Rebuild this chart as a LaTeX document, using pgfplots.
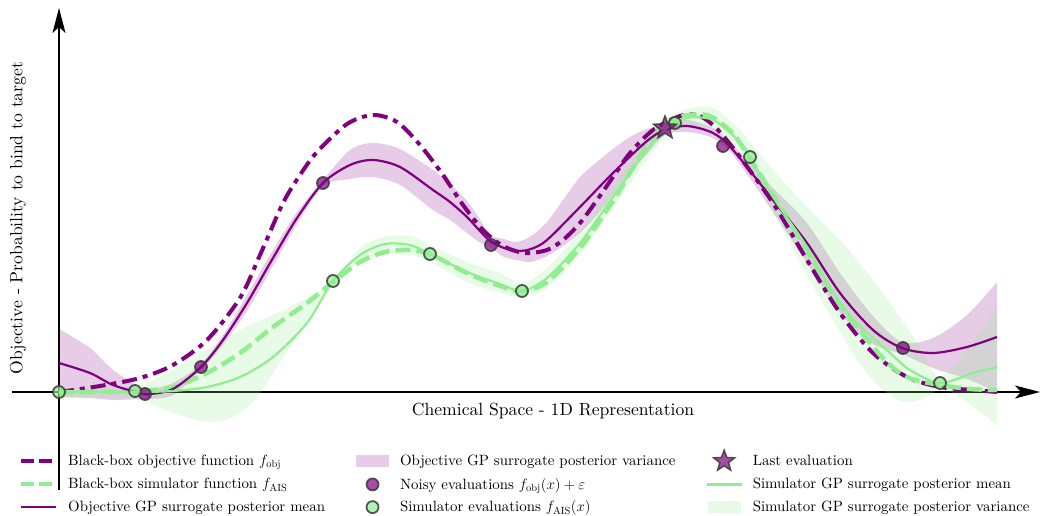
\RequirePackage{fix-cm}
\documentclass[border=0pt]{standalone}
\usepackage{fontspec}
\setmainfont{lmroman10-regular.otf}
\usepackage{pgfplots}
\pgfplotsset{compat=1.18}
\usepgfplotslibrary{fillbetween}
\usetikzlibrary{arrows.meta}

\definecolor{objc}{HTML}{800080}
\definecolor{simc}{HTML}{90EE90}
\definecolor{edgec}{HTML}{3A3A3A}

% filled five-point star
\pgfdeclareplotmark{fstar}{%
  \pgfpathmoveto{\pgfpointpolar{90}{\pgfplotmarksize}}%
  \pgfpathlineto{\pgfpointpolar{126}{0.42\pgfplotmarksize}}%
  \pgfpathlineto{\pgfpointpolar{162}{\pgfplotmarksize}}%
  \pgfpathlineto{\pgfpointpolar{198}{0.42\pgfplotmarksize}}%
  \pgfpathlineto{\pgfpointpolar{234}{\pgfplotmarksize}}%
  \pgfpathlineto{\pgfpointpolar{270}{0.42\pgfplotmarksize}}%
  \pgfpathlineto{\pgfpointpolar{306}{\pgfplotmarksize}}%
  \pgfpathlineto{\pgfpointpolar{342}{0.42\pgfplotmarksize}}%
  \pgfpathlineto{\pgfpointpolar{18}{\pgfplotmarksize}}%
  \pgfpathlineto{\pgfpointpolar{54}{0.42\pgfplotmarksize}}%
  \pgfpathclose
  \pgfusepathqfillstroke
}

\pgfplotsset{
  lineleg/.style={legend image code/.code={\path[draw=none,fill=none] (0pt,-6pt) rectangle (35pt,6pt); \draw[##1] (0pt,0pt) -- (35pt,0pt);}},
  bandleg/.style={legend image code/.code={\path[draw=none,fill=none] (0pt,-6pt) rectangle (35pt,6pt); \fill[##1,draw=none] (1pt,-6pt) rectangle (34pt,6pt);}},
  markleg/.style={legend image code/.code={\path[draw=none,fill=none] (0pt,-6pt) rectangle (35pt,6pt); \path[##1] plot coordinates {(17.5pt,0pt)};}},
  evalmark/.style={mark=*, mark size=6pt, mark options={fill=#1, fill opacity=0.7, draw=edgec, draw opacity=0.85, line width=1.8pt}},
}

\begin{document}
\begin{tikzpicture}
\begin{axis}[
  x=1pt, y=1pt,
  xmin=-47, xmax=981, ymin=-98, ymax=384,
  axis lines=middle,
  axis line style={line width=1.4pt, -{Stealth[length=25pt,width=13pt,inset=6pt]}},
  xtick=\empty, ytick=\empty,
  clip=false,
  xlabel={Chemical Space - 1D Representation},
  ylabel={Objective - Probability to bind to target},
  every axis x label/.style={at={(axis cs:494,-8)}, anchor=north, font=\fontsize{17.6}{21}\selectfont},
  every axis y label/.style={at={(axis cs:-41,174)}, anchor=center, rotate=90, font=\fontsize{17.6}{21}\selectfont},
  legend columns=3,
  legend style={at={(axis cs:-43,-56)}, anchor=north west, draw=none, fill=none,
    font=\fontsize{14.9}{18}\selectfont, cells={anchor=west}, row sep=6pt,
    /tikz/every odd column/.append style={column sep=8pt},
    /tikz/every even column/.append style={column sep=28pt}},
]
% objective GP band
\addplot[name path=ou, draw=none, smooth, forget plot] coordinates {
(0,63) (31,44) (54,22) (81,5) (91,3) (114,9) (142,28) (164,57) (188,97) (214,142) (238,180) (264,212) (291,242) (314,249) (341,243) (374,222) (391,208) (408,191) (420,174) (431,157) (445,153) (458,150) (472,156) (488,170) (504,192) (521,215) (538,230) (554,243) (571,255) (588,263) (606,267) (628,272) (654,264) (674,247) (714,204) (748,169) (781,119) (814,76) (843,50) (874,54) (908,77) (938,110)
};
\addplot[name path=ol, draw=none, smooth, forget plot] coordinates {
(0,-5) (31,-6) (54,-8) (81,-7) (91,-7) (114,-3) (142,22) (164,47) (188,81) (214,126) (238,168) (264,206) (291,213) (314,215) (341,207) (374,182) (391,172) (408,159) (420,150) (431,145) (445,135) (458,132) (472,130) (488,136) (504,146) (521,159) (538,177) (554,197) (571,220) (588,238) (606,257) (628,260) (654,254) (674,237) (714,180) (748,129) (781,79) (814,48) (843,38) (874,24) (908,13) (938,0)
};
\addplot[fill=objc, fill opacity=0.2, draw=none, forget plot] fill between[of=ou and ol];
% simulator GP band
\addplot[name path=su, draw=none, smooth, forget plot] coordinates {
(0,4) (41,4) (81,6) (131,32) (181,62) (231,85) (274,111) (301,144) (324,155) (351,156) (371,147) (408,130) (441,119) (463,109) (488,124) (521,160) (554,206) (588,252) (608,274) (631,284) (654,284) (681,262) (714,222) (748,185) (781,152) (814,112) (838,79) (861,45) (881,15) (911,47) (938,85)
};
\addplot[name path=sl, draw=none, smooth, forget plot] coordinates {
(0,-6) (41,-6) (81,-8) (114,-21) (148,-30) (174,-25) (198,-5) (231,45) (258,85) (274,108) (301,130) (326,137) (351,137) (371,130) (408,110) (441,99) (463,95) (488,104) (521,137) (554,184) (588,232) (608,256) (631,267) (654,262) (681,240) (714,180) (748,117) (764,89) (798,32) (821,5) (844,-10) (866,-6) (881,3) (901,-5) (938,-33)
};
\addplot[fill=simc, fill opacity=0.22, draw=none, forget plot] fill between[of=su and sl];
% black-box objective
\addplot[objc, line width=4pt, smooth, dash pattern=on 15pt off 6pt on 5pt off 6pt, forget plot] coordinates {
(0,0) (41,6) (81,14) (114,27) (148,52) (181,94) (201,137) (224,189) (241,217) (258,240) (288,268) (314,277) (338,270) (361,247) (384,217) (404,187) (424,162) (444,146) (466,139) (488,142) (504,152) (521,169) (538,192) (554,215) (571,239) (594,262) (621,276) (638,277) (654,267) (674,244) (714,189) (748,132) (781,79) (814,39) (848,15) (881,5) (914,2) (938,0)
};
% black-box simulator
\addplot[simc, line width=4.5pt, smooth, dash pattern=on 15pt off 6pt, forget plot] coordinates {
(0,0) (41,0) (81,1) (114,5) (148,19) (181,39) (214,65) (248,89) (274,110) (301,130) (326,140) (351,142) (371,138) (408,119) (441,106) (463,101) (488,110) (521,144) (554,191) (578,231) (598,260) (621,275) (648,277) (668,264) (681,249) (714,197) (748,142) (778,92) (821,37) (848,15) (881,7) (911,3) (938,2)
};
% objective GP mean
\addplot[objc, line width=2.2pt, smooth, forget plot] coordinates {
(0,29) (31,19) (54,7) (81,-1) (91,-2) (114,3) (142,25) (164,52) (188,89) (214,134) (238,174) (264,209) (291,227) (314,232) (341,225) (374,202) (391,190) (408,175) (420,162) (431,151) (445,144) (458,141) (472,143) (488,152) (521,185) (554,219) (588,251) (606,262) (628,266) (654,259) (674,242) (714,192) (748,149) (781,99) (814,62) (843,44) (874,39) (908,45) (938,55)
};
% simulator GP mean
\addplot[simc, line width=2.2pt, smooth, forget plot] coordinates {
(0,0) (41,0) (81,0) (114,1) (148,5) (181,15) (214,35) (248,69) (274,111) (301,137) (326,148) (351,147) (371,138) (408,120) (441,108) (463,101) (488,114) (521,149) (554,195) (588,242) (608,264) (628,274) (654,272) (681,250) (691,235) (714,195) (748,145) (774,99) (798,69) (831,39) (851,22) (881,9) (914,19) (938,25)
};
% evaluations
\addplot[only marks, evalmark=objc, forget plot] coordinates {
(86,-2) (142,25) (264,209) (432,147) (664,246) (844,44)
};
\addplot[only marks, evalmark=simc, forget plot] coordinates {
(0,0) (76,1) (274,111) (371,138) (463,101) (616,269) (691,235) (881,9)
};
\addplot[only marks, mark=fstar, mark size=12pt, mark options={fill=objc, fill opacity=0.7, draw=edgec, draw opacity=0.85, line width=1.5pt}, forget plot] coordinates {
(606,264)
};
% legend, row by row
\addlegendimage{lineleg, objc, line width=4pt, dash pattern=on 13pt off 5pt}
\addlegendentry{Black-box objective function $f_{\mathrm{obj}}$}
\addlegendimage{bandleg, fill=objc, fill opacity=0.2}
\addlegendentry{Objective GP surrogate posterior variance}
\addlegendimage{markleg, mark=fstar, mark size=11pt, mark options={fill=objc, fill opacity=0.7, draw=edgec, draw opacity=0.85, line width=1.5pt}}
\addlegendentry{Last evaluation}
\addlegendimage{lineleg, simc, line width=4pt, dash pattern=on 13pt off 5pt}
\addlegendentry{Black-box simulator function $f_{\mathrm{AIS}}$}
\addlegendimage{markleg, evalmark=objc}
\addlegendentry{Noisy evaluations $f_{\mathrm{obj}}(x)+\varepsilon$}
\addlegendimage{lineleg, simc, line width=2.2pt}
\addlegendentry{Simulator GP surrogate posterior mean}
\addlegendimage{lineleg, objc, line width=2.2pt}
\addlegendentry{Objective GP surrogate posterior mean}
\addlegendimage{markleg, evalmark=simc}
\addlegendentry{Simulator evaluations $f_{\mathrm{AIS}}(x)$}
\addlegendimage{bandleg, fill=simc, fill opacity=0.22}
\addlegendentry{Simulator GP surrogate posterior variance}
\coordinate (bbl) at (axis cs:-59,-123);
\coordinate (btr) at (axis cs:983,392);
\end{axis}
\pgfresetboundingbox
\useasboundingbox (bbl) rectangle (btr);
\end{tikzpicture}
\end{document}
